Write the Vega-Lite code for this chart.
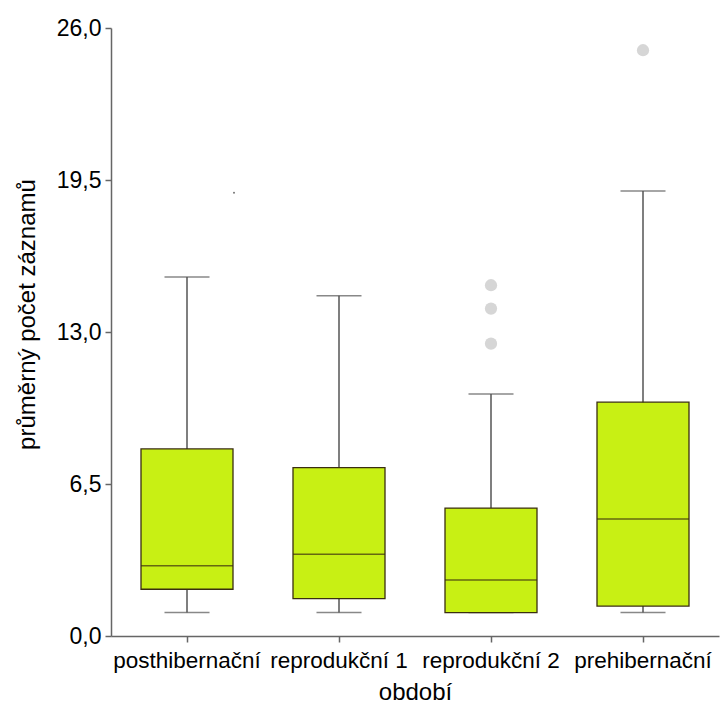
{
  "$schema": "https://vega.github.io/schema/vega-lite/v6.json",
  "width": 608,
  "height": 608,
  "autosize": {"type": "none"},
  "padding": {"left": 111, "top": 28, "right": 6, "bottom": 70},
  "background": "white",
  "datasets": {
    "boxes": [
      {"obdobi": "posthibernační", "low": 1.0, "q1": 2.0, "median": 3.0, "q3": 8.0, "high": 15.35},
      {"obdobi": "reprodukční 1", "low": 1.0, "q1": 1.6, "median": 3.5, "q3": 7.2, "high": 14.55},
      {"obdobi": "reprodukční 2", "low": 1.0, "q1": 1.0, "median": 2.4, "q3": 5.47, "high": 10.35},
      {"obdobi": "prehibernační", "low": 1.0, "q1": 1.28, "median": 5.0, "q3": 10.0, "high": 19.03}
    ],
    "outliers": [
      {"obdobi": "reprodukční 2", "value": 15.0},
      {"obdobi": "reprodukční 2", "value": 14.0},
      {"obdobi": "reprodukční 2", "value": 12.5},
      {"obdobi": "prehibernační", "value": 25.05}
    ],
    "tiny": [
      {"obdobi": "reprodukční 1", "value": 18.95}
    ]
  },
  "config": {
    "font": "Liberation Sans",
    "view": {"stroke": null},
    "axis": {
      "domainColor": "#666666",
      "domainWidth": 1.5,
      "tickColor": "#666666",
      "tickWidth": 1.5,
      "tickSize": 6,
      "grid": false,
      "labelColor": "#000000",
      "titleColor": "#000000",
      "labelFont": "Liberation Sans",
      "titleFont": "Liberation Sans",
      "labelFontSize": 23,
      "titleFontSize": 24,
      "titleFontWeight": "normal"
    }
  },
  "layer": [
    {
      "data": {"name": "boxes"},
      "mark": {"type": "rule", "color": "#555555", "strokeWidth": 1.5},
      "encoding": {
        "x": {
          "field": "obdobi", "type": "nominal",
          "sort": ["posthibernační", "reprodukční 1", "reprodukční 2", "prehibernační"],
          "scale": {"paddingInner": 0, "paddingOuter": 0},
          "axis": {"title": "období", "labelAngle": 0, "labelPadding": 7, "titlePadding": 9, "labelFontSize": 22.5}
        },
        "y": {
          "field": "low", "type": "quantitative",
          "scale": {"domain": [0, 26], "nice": false, "zero": true},
          "axis": {
            "title": "průměrný počet záznamů",
            "values": [0, 6.5, 13, 19.5, 26],
            "labelExpr": "replace(format(datum.value, '.1f'), '.', ',')",
            "labelPadding": 4,
            "titlePadding": 17,
            "titleY": 286
          }
        },
        "y2": {"field": "high"}
      }
    },
    {
      "data": {"name": "boxes"},
      "mark": {"type": "tick", "color": "#555555", "thickness": 1.5, "size": 45, "orient": "horizontal"},
      "encoding": {
        "x": {"field": "obdobi", "type": "nominal", "sort": ["posthibernační", "reprodukční 1", "reprodukční 2", "prehibernační"]},
        "y": {"field": "low", "type": "quantitative"}
      }
    },
    {
      "data": {"name": "boxes"},
      "mark": {"type": "tick", "color": "#555555", "thickness": 1.5, "size": 45, "orient": "horizontal"},
      "encoding": {
        "x": {"field": "obdobi", "type": "nominal", "sort": ["posthibernační", "reprodukční 1", "reprodukční 2", "prehibernační"]},
        "y": {"field": "high", "type": "quantitative"}
      }
    },
    {
      "data": {"name": "boxes"},
      "mark": {"type": "bar", "width": 92, "fill": "#C8F014", "stroke": "#3a2e10", "strokeWidth": 1.3},
      "encoding": {
        "x": {"field": "obdobi", "type": "nominal", "sort": ["posthibernační", "reprodukční 1", "reprodukční 2", "prehibernační"]},
        "y": {"field": "q1", "type": "quantitative"},
        "y2": {"field": "q3"}
      }
    },
    {
      "data": {"name": "boxes"},
      "mark": {"type": "tick", "color": "#3a2e10", "thickness": 1.5, "size": 92, "orient": "horizontal"},
      "encoding": {
        "x": {"field": "obdobi", "type": "nominal", "sort": ["posthibernační", "reprodukční 1", "reprodukční 2", "prehibernační"]},
        "y": {"field": "median", "type": "quantitative"}
      }
    },
    {
      "data": {"name": "outliers"},
      "mark": {"type": "circle", "color": "#d6d6d6", "opacity": 1, "size": 150},
      "encoding": {
        "x": {"field": "obdobi", "type": "nominal", "sort": ["posthibernační", "reprodukční 1", "reprodukční 2", "prehibernační"]},
        "y": {"field": "value", "type": "quantitative"}
      }
    },
    {
      "data": {"name": "tiny"},
      "mark": {"type": "circle", "color": "#777777", "opacity": 1, "size": 4},
      "encoding": {
        "x": {"field": "obdobi", "type": "nominal", "sort": ["posthibernační", "reprodukční 1", "reprodukční 2", "prehibernační"]},
        "xOffset": {"value": -29},
        "y": {"field": "value", "type": "quantitative"}
      }
    }
  ]
}
